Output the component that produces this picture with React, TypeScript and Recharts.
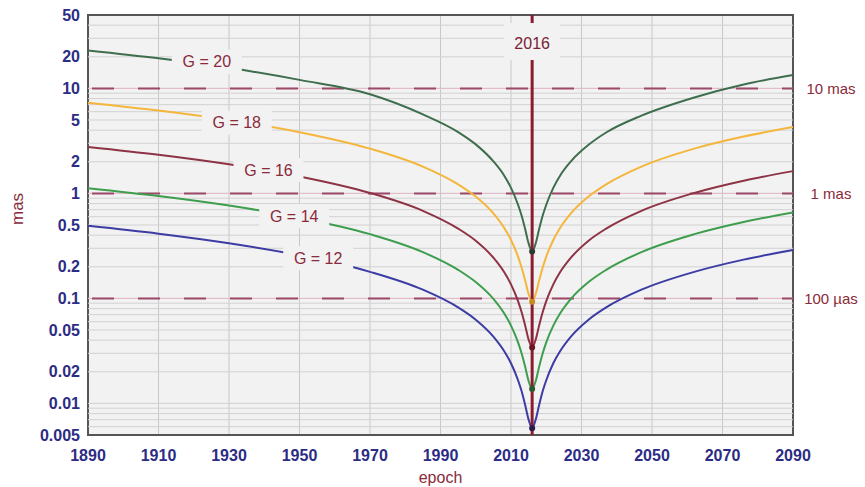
import React from 'react';
import { LineChart, Line, XAxis, YAxis, CartesianGrid, ReferenceLine, ReferenceDot, ReferenceArea } from 'recharts';

const epochs = [1890, 1910, 1930, 1950, 1970, 1985, 1995, 2000, 2005, 2008, 2010, 2012, 2013, 2014, 2015, 2016, 2017, 2018, 2019, 2020, 2022, 2024, 2027, 2032, 2037, 2047, 2062, 2076, 2090];

const g20 = [23.0, 19.35, 15.7, 12.05, 8.8, 5.66, 3.84, 2.93, 2.02, 1.49, 1.13, 0.78, 0.615, 0.46, 0.334, 0.28, 0.334, 0.46, 0.615, 0.78, 1.13, 1.49, 2.02, 2.9, 3.8, 5.5, 8.2, 10.9, 13.4];
const g18 = [7.31, 6.15, 4.99, 3.83, 2.67, 1.8, 1.22, 0.932, 0.645, 0.473, 0.36, 0.25, 0.197, 0.149, 0.11, 0.093, 0.11, 0.149, 0.197, 0.25, 0.36, 0.473, 0.645, 0.932, 1.22, 1.8, 2.67, 3.48, 4.29];
const g16 = [2.77, 2.33, 1.89, 1.45, 1.01, 0.682, 0.462, 0.354, 0.244, 0.179, 0.136, 0.0943, 0.0742, 0.0556, 0.0405, 0.034, 0.0405, 0.0556, 0.0742, 0.0943, 0.136, 0.179, 0.244, 0.354, 0.462, 0.682, 1.01, 1.32, 1.63];
const g14 = [1.121, 0.943, 0.765, 0.587, 0.409, 0.276, 0.187, 0.143, 0.0989, 0.0725, 0.0551, 0.0381, 0.03, 0.0225, 0.0163, 0.0137, 0.0163, 0.0225, 0.03, 0.0381, 0.0551, 0.0725, 0.0989, 0.143, 0.187, 0.276, 0.409, 0.534, 0.659];
const g12 = [0.491, 0.413, 0.335, 0.257, 0.179, 0.121, 0.0821, 0.0627, 0.0433, 0.0317, 0.0241, 0.0166, 0.0131, 0.0097, 0.007, 0.0058, 0.007, 0.0097, 0.0131, 0.0166, 0.0241, 0.0317, 0.0433, 0.0627, 0.0821, 0.121, 0.179, 0.234, 0.289];

const xTicks = [1890, 1910, 1930, 1950, 1970, 1990, 2010, 2030, 2050, 2070, 2090];
const yTicks = [0.005, 0.01, 0.02, 0.05, 0.1, 0.2, 0.5, 1, 2, 5, 10, 20, 50];
const minorGrid = [0.006, 0.007, 0.008, 0.009, 0.01, 0.02, 0.03, 0.04, 0.05, 0.06, 0.07, 0.08, 0.09, 0.1, 0.2, 0.3, 0.4, 0.5, 0.6, 0.7, 0.8, 0.9, 1, 2, 3, 4, 5, 6, 7, 8, 9, 10, 20, 30, 40];

const seriesNames = ['G = 20', 'G = 18', 'G = 16', 'G = 14', 'G = 12'];
const seriesKeys = ['g20', 'g18', 'g16', 'g14', 'g12'];
const seriesColors = ['#3f6e4e', '#f4b63c', '#8e3345', '#3e9e4e', '#3c3ca4'];
const dotColors = ['#2a3a2e', '#c98a20', '#6a1424', '#2a5a30', '#2a1a4a'];
const minValues = [0.28, 0.093, 0.034, 0.0137, 0.0058];
const labelYears = [1923.7, 1932.2, 1941.2, 1948.5, 1955.3];
const labelValues = [17.9, 4.71, 1.67, 0.609, 0.241];

const refValues = [10, 1, 0.1];
const refLabels = ['10 mas', '1 mas', '100 µas'];
const markerEpoch = 2016;

const data = epochs.map((e, i) => ({ epoch: e, g20: g20[i], g18: g18[i], g16: g16[i], g14: g14[i], g12: g12[i] }));

const BG = '#f2f2f2';
const RED = '#8a2a3a';
const BLUE = '#2c2c84';
const FONT = '"Liberation Sans", Arial, sans-serif';

const fmt = (v: number) => String(v);

export default function App() {
  return (
    <div style={{ position: 'absolute', left: 0, top: 0, background: '#fff' }}>
      <LineChart width={865} height={487} data={data} margin={{ top: 15, right: 72, bottom: 0, left: 0 }}>
        <CartesianGrid fill={BG} horizontal={false} stroke="#c8c8c8" strokeWidth={1} />
        {minorGrid.map((v) => (
          <ReferenceLine key={'m' + v} y={v} stroke="#d2d2d2" strokeWidth={1} />
        ))}
        <XAxis
          dataKey="epoch"
          type="number"
          domain={[1890, 2090]}
          ticks={xTicks}
          interval={0}
          tickLine={false}
          axisLine={false}
          tickMargin={9}
          height={52}
          tick={{ fill: BLUE, fontSize: 16, fontWeight: 'bold', fontFamily: FONT }}
          label={{ value: 'epoch', position: 'insideBottom', offset: 4, fill: RED, fontSize: 16, fontFamily: FONT }}
        />
        <YAxis
          type="number"
          scale="log"
          domain={[0.005, 50]}
          allowDataOverflow
          ticks={yTicks}
          interval={0}
          tickFormatter={fmt}
          tickLine={false}
          axisLine={false}
          width={88}
          tick={{ fill: BLUE, fontSize: 16, fontWeight: 'bold', fontFamily: FONT }}
          label={{ value: 'mas', angle: -90, position: 'insideLeft', offset: 17, fill: RED, fontSize: 17, fontFamily: FONT }}
        />
        {refValues.map((v) => (
          <ReferenceLine key={'rl' + v} y={v} stroke="#e6b8c8" strokeWidth={1} />
        ))}
        {refValues.map((v, i) => (
          <ReferenceLine
            key={'r' + v}
            y={v}
            stroke="#9c4868"
            strokeWidth={2}
            strokeDasharray="22 24"
            strokeDashoffset={-4}
            label={(p: any) => {
              const vb = p.viewBox || {};
              return (
                <text x={vb.x + vb.width + 38} y={vb.y} dy="0.35em" textAnchor="middle" fill={RED} fontSize={15} fontFamily={FONT}>
                  {refLabels[i]}
                </text>
              );
            }}
          />
        ))}
        {seriesKeys.map((k, i) => (
          <Line key={k} dataKey={k} type="monotone" stroke={seriesColors[i]} strokeWidth={2} dot={false} isAnimationActive={false} />
        ))}
        <ReferenceLine
          x={markerEpoch}
          stroke="#8a1c30"
          strokeWidth={3}
          label={(p: any) => {
            const vb = p.viewBox || {};
            return (
              <g>
                <rect x={vb.x - 28} y={vb.y + 8} width={56} height={37} fill={BG} />
                <text x={vb.x} y={vb.y + 28} dy="0.35em" textAnchor="middle" fill="#7a2232" fontSize={16} fontFamily={FONT}>
                  {String(markerEpoch)}
                </text>
              </g>
            );
          }}
        />
        {seriesKeys.map((k, i) => (
          <ReferenceDot key={'min' + k} x={markerEpoch} y={minValues[i]} r={3} fill={dotColors[i]} stroke="none" />
        ))}
        {seriesKeys.map((k, i) => (
          <ReferenceDot
            key={'lab' + k}
            x={labelYears[i]}
            y={labelValues[i]}
            r={1}
            shape={(p: any) => (
              <g>
                <rect x={p.cx - 35} y={p.cy - 12} width={70} height={24} fill={BG} />
                <text x={p.cx} y={p.cy} dy="0.35em" textAnchor="middle" fill={RED} fontSize={16} fontFamily={FONT}>
                  {seriesNames[i]}
                </text>
              </g>
            )}
          />
        ))}
        <ReferenceArea x1={1890} x2={2090} y1={0.005} y2={50} fill="none" stroke="#555" strokeWidth={2} />
      </LineChart>
    </div>
  );
}
